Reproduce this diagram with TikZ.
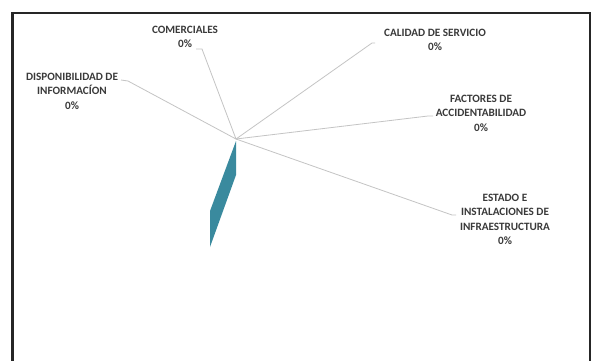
\documentclass[tikz,border=0pt]{standalone}
\usepackage{fontspec}
\setmainfont{Carlito}
\definecolor{slice}{HTML}{3A8A9E}
\definecolor{leader}{HTML}{C4C4C4}
\definecolor{lbl}{HTML}{3A3A3A}
\begin{document}
\begin{tikzpicture}[x=1pt,y=-1pt,
  lab/.style={align=center,text=lbl,font=\bfseries\fontsize{11.2}{14.5}\selectfont,inner sep=0pt},
  leaderline/.style={draw=leader,line width=0.8pt}]
\useasboundingbox (0,0) rectangle (592,360);
\fill[white] (0,0) rectangle (592,360);
\draw[line width=2.4pt,black!85] (12.5,365) -- (12.5,13) -- (590,13) -- (590,365);
% pie centre
\coordinate (c) at (236,139);
% leader end points
\coordinate (comA) at (202,49);  \coordinate (comB) at (196,49);
\coordinate (disA) at (128,81);  \coordinate (disB) at (121,80);
\coordinate (calA) at (372,43);  \coordinate (calB) at (375,43);
\coordinate (facA) at (428,116); \coordinate (facB) at (433,116);
\coordinate (estA) at (452,215); \coordinate (estB) at (456,215);
\draw[leaderline] (c) -- (comA) -- (comB);
\draw[leaderline] (c) -- (disA) -- (disB);
\draw[leaderline] (c) -- (calA) -- (calB);
\draw[leaderline] (c) -- (facA) -- (facB);
\draw[leaderline] (c) -- (estA) -- (estB);
% slice
\fill[slice] (236,141) -- (236,175) -- (210,247) -- (210,211) -- cycle;
% labels
\node[lab] (com) at (185,37) {COMERCIALES\\0\%};
\node[lab] (dis) at (72,91) {DISPONIBILIDAD DE\\INFORMAC\'ION\\0\%};
\node[lab] (cal) at (435,40) {CALIDAD DE SERVICIO\\0\%};
\node[lab] (fac) at (481,113) {FACTORES DE\\ACCIDENTABILIDAD\\0\%};
\node[lab] (est) at (505,219.5) {ESTADO E\\INSTALACIONES DE\\INFRAESTRUCTURA\\0\%};
\end{tikzpicture}
\end{document}
